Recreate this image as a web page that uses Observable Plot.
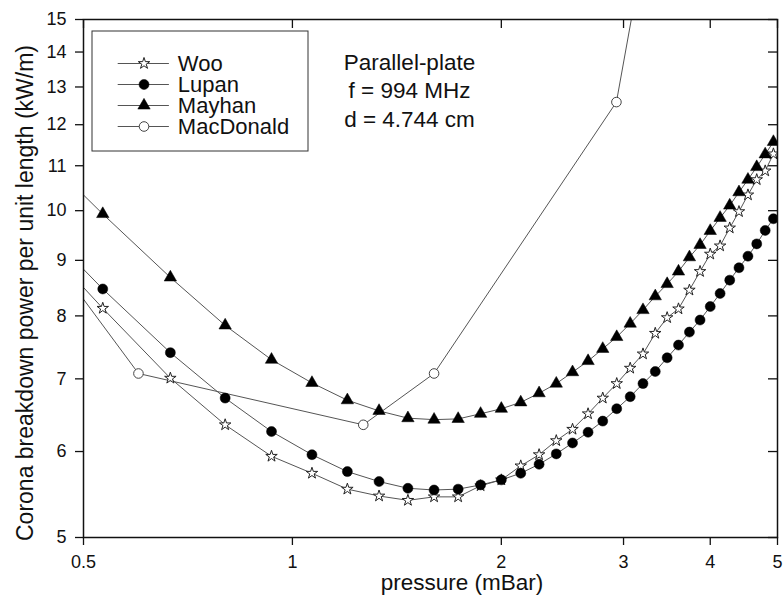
<!DOCTYPE html>
<html><head><meta charset="utf-8">
<script src="https://cdn.jsdelivr.net/npm/d3@7"></script>
<script src="https://cdn.jsdelivr.net/npm/@observablehq/plot@0.6"></script>
<style>
body{margin:0;background:#fff;}
#wrap{position:relative;width:783px;height:595px;}
#legend{position:absolute;left:91px;top:29.5px;}
</style></head><body><div id="wrap"></div>
<script>
// pressure grid (mBar); first value lies just left of the visible axis
const pressure = [0.4, 0.533, 0.667, 0.8, 0.933, 1.067, 1.2, 1.333, 1.467, 1.6, 1.733, 1.867, 2.0, 2.133, 2.267, 2.4, 2.533, 2.667, 2.8, 2.933, 3.067, 3.2, 3.333, 3.467, 3.6, 3.733, 3.867, 4.0, 4.133, 4.267, 4.4, 4.533, 4.667, 4.8, 4.933];
const woo    = [9.91, 8.13, 7.01, 6.35, 5.94, 5.73, 5.54, 5.46, 5.41, 5.45, 5.45, 5.58, 5.65, 5.82, 5.96, 6.14, 6.29, 6.50, 6.72, 6.93, 7.16, 7.38, 7.71, 7.97, 8.12, 8.45, 8.79, 9.12, 9.28, 9.64, 9.98, 10.34, 10.68, 10.88, 11.28];
const lupan  = [10.22, 8.47, 7.40, 6.72, 6.26, 5.96, 5.75, 5.63, 5.55, 5.53, 5.54, 5.59, 5.65, 5.73, 5.84, 5.97, 6.11, 6.25, 6.40, 6.57, 6.74, 6.93, 7.11, 7.32, 7.52, 7.73, 7.93, 8.16, 8.39, 8.63, 8.86, 9.08, 9.32, 9.59, 9.83];
const mayhan = [11.90, 9.93, 8.68, 7.84, 7.29, 6.94, 6.69, 6.54, 6.44, 6.42, 6.43, 6.50, 6.57, 6.66, 6.79, 6.93, 7.10, 7.27, 7.46, 7.65, 7.87, 8.10, 8.34, 8.56, 8.79, 9.06, 9.30, 9.58, 9.85, 10.11, 10.40, 10.68, 10.97, 11.27, 11.57];
const macPressure = [0.4, 0.6, 1.265, 1.6, 2.93, 4.0];
const macdonald   = [10.05, 7.08, 6.35, 7.08, 12.59, 38];

const xTicks = [0.5, 1, 2, 3, 4, 5];
const yTicks = [5, 6, 7, 8, 9, 10, 11, 12, 13, 14, 15];
const seriesNames = ["Woo", "Lupan", "Mayhan", "MacDonald"];
const annotation = ["Parallel-plate", "f = 994 MHz", "d = 4.744 cm"];
const xLabel = "pressure (mBar)";
const yLabel = "Corona breakdown power per unit length (kW/m)";

const FONT = "'Liberation Sans', Arial, Helvetica, sans-serif";
const rows = (xs, ys) => xs.map((x, i) => ({x, y: ys[i]}));
const data = {
  Woo: rows(pressure, woo),
  Lupan: rows(pressure, lupan),
  Mayhan: rows(pressure, mayhan),
  MacDonald: rows(macPressure, macdonald)
};
const sym = {
  Woo: {symbol: "star", r: 3.6, fill: "white", stroke: "#222", strokeWidth: 1},
  Lupan: {symbol: "circle", r: 5, fill: "black", stroke: "black", strokeWidth: 0.5},
  Mayhan: {symbol: "triangle", r: 4.6, fill: "black", stroke: "black", strokeWidth: 0.5},
  MacDonald: {symbol: "circle", r: 4.8, fill: "white", stroke: "#444", strokeWidth: 1}
};

const marks = [
  Plot.axisX({anchor: "bottom", ticks: xTicks, tickSize: 8, tickPadding: 10, tickFormat: d => String(d), label: null, strokeWidth: 1.3}),
  Plot.axisY({anchor: "left", ticks: yTicks, tickSize: 8, tickPadding: 9, tickFormat: d => String(d), label: null, strokeWidth: 1.3}),
  Plot.tickX(xTicks, {x: d => d, insetBottom: 518 - 9, stroke: "#111", strokeWidth: 1.3}),
  Plot.tickY(yTicks, {y: d => d, insetLeft: 694 - 9, stroke: "#111", strokeWidth: 1.3})
];
for (const name of ["MacDonald", "Woo", "Lupan", "Mayhan"]) {
  marks.push(Plot.line(data[name], {x: "x", y: "y", stroke: "#555", strokeWidth: 1, clip: true}));
}
for (const name of ["MacDonald", "Woo", "Lupan", "Mayhan"]) {
  marks.push(Plot.dot(data[name], {x: "x", y: "y", ...sym[name], clip: true}));
}
marks.push(
  Plot.frame({stroke: "#111", strokeWidth: 1.5}),
  Plot.text([annotation.join("\n")], {frameAnchor: "top-left", dx: 326, dy: 30.4, textAnchor: "middle", lineAnchor: "top", lineHeight: 1.26, fontSize: 22.5, fill: "#111"}),
  Plot.text([xLabel], {frameAnchor: "bottom", dx: 31.5, dy: 45.5, textAnchor: "middle", lineAnchor: "middle", fontSize: 22.5, fill: "#111"}),
  Plot.text([yLabel], {frameAnchor: "left", rotate: -90, dx: -57.7, dy: 14.5, textAnchor: "middle", lineAnchor: "middle", fontSize: 23, fill: "#111"})
);

const chart = Plot.plot({
  width: 783, height: 595,
  marginLeft: 83, marginRight: 6, marginTop: 19, marginBottom: 58,
  style: {fontFamily: FONT, fontSize: "18px", color: "#111", background: "white"},
  x: {type: "log", domain: [0.5, 5]},
  y: {type: "log", domain: [5, 15]},
  marks
});

// legend box drawn as a small Plot overlaid on the chart
const legendMarks = [
  Plot.frame({stroke: "#333", strokeWidth: 1, inset: 0.5, fill: "white"}),
  Plot.ruleY(seriesNames, {y: d => d, x1: 0.123, x2: 0.359, stroke: "#555", strokeWidth: 1})
];
for (const name of seriesNames) {
  legendMarks.push(Plot.dot([name], {x: () => 0.242, y: d => d, ...sym[name]}));
}
legendMarks.push(Plot.text(seriesNames, {x: () => 0.398, y: d => d, textAnchor: "start", fontSize: 22, fill: "#111"}));
const legend = Plot.plot({
  width: 217, height: 121, margin: 0,
  style: {fontFamily: FONT, background: "transparent", overflow: "visible"},
  x: {domain: [0, 1], range: [0, 217], axis: null},
  y: {type: "point", domain: seriesNames, range: [22, 107], axis: null},
  marks: legendMarks
});
legend.id = "legend";

const wrap = document.getElementById("wrap");
wrap.appendChild(chart);
wrap.appendChild(legend);
</script></body></html>
